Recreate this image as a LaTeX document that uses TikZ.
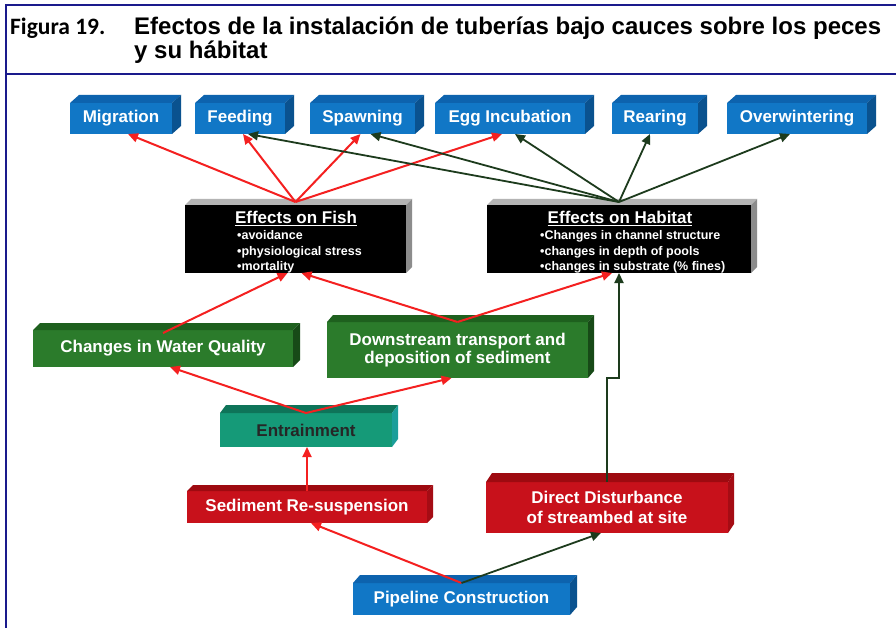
\documentclass[tikz,border=0pt]{standalone}
\usepackage{fontspec}
\setmainfont{Liberation Sans}
\newfontfamily\carlitofont{Carlito}
\usetikzlibrary{arrows.meta,calc}

\definecolor{frameblue}{HTML}{1A1A8C}
\definecolor{bF}{HTML}{1177C6}
\definecolor{bT}{HTML}{0D63AE}
\definecolor{bS}{HTML}{0A528F}
\definecolor{gF}{HTML}{2B7B2B}
\definecolor{gT}{HTML}{1E601E}
\definecolor{gS}{HTML}{174A17}
\definecolor{tF}{HTML}{159A78}
\definecolor{tT}{HTML}{0E7459}
\definecolor{tS}{HTML}{1B9E9A}
\definecolor{rF}{HTML}{C8111B}
\definecolor{rT}{HTML}{9E0A10}
\definecolor{rS}{HTML}{A50C14}
\definecolor{kT}{HTML}{B4B4B4}
\definecolor{kS}{HTML}{8C8C8C}
\definecolor{arR}{HTML}{F42020}
\definecolor{arG}{HTML}{1D3B1D}

\newcommand\boxfaces[5]{%
  \fill[#4] (#1.north west) -- ++(#2,-#3) -- ($(#1.north east)+(#2,-#3)$) -- (#1.north east) -- cycle;
  \fill[#5] (#1.north east) -- ++(#2,-#3) -- ($(#1.south east)+(#2,-#3)$) -- (#1.south east) -- cycle;
}

\tikzset{
  frontbox/.style={rectangle, inner sep=0pt, outer sep=0pt, anchor=north west, align=center,
    font=\bfseries\fontsize{17}{19}\selectfont, text=white},
  bluebox/.style={frontbox, fill=bF},
  greenbox/.style={frontbox, fill=gF},
  tealbox/.style={frontbox, fill=tF, text=black!85},
  redbox/.style={frontbox, fill=rF},
  blackbox/.style={frontbox, fill=black},
  boxtitle/.style={anchor=base, inner sep=0pt, text=white, font=\bfseries\fontsize{17}{19}\selectfont},
  bulletline/.style={anchor=base west, inner sep=0pt, text=white, font=\bfseries\fontsize{12.5}{14}\selectfont},
  redarrow/.style={draw=arR, line width=2pt, -{Triangle[length=10pt,width=9pt]}},
  greenarrow/.style={draw=arG, line width=1.8pt, -{Triangle[length=10pt,width=9pt]}},
  framerule/.style={draw=frameblue, line width=1.5pt},
  titletext/.style={anchor=base west, inner sep=0pt, font=\bfseries\fontsize{24}{26}\selectfont},
}

\begin{document}
\begin{tikzpicture}[x=1pt,y=-1pt]
\useasboundingbox (0,0) rectangle (896,628);
\fill[white] (0,0) rectangle (896,628);

% frame
\draw[framerule] (6,628) -- (6,5) -- (896,5);
\draw[framerule] (6,74) -- (896,74);

% title
\node[titletext, font=\carlitofont\bfseries\fontsize{23.5}{25}\selectfont] (fig) at (10,35) {Figura 19.};
\node[titletext] (title1) at (134,35) {Efectos de la instalación de tuberías bajo cauces sobre los peces};
\node[titletext] (title2) at (134,59) {y su hábitat};

% top row
\node[bluebox, minimum width=102pt, minimum height=31pt] (mig) at (70,103) {Migration};
\node[bluebox, minimum width=90pt, minimum height=31pt] (feed) at (195,103) {Feeding};
\node[bluebox, minimum width=105pt, minimum height=31pt] (spawn) at (310,103) {Spawning};
\node[bluebox, minimum width=150pt, minimum height=31pt] (egg) at (435,103) {Egg Incubation};
\node[bluebox, minimum width=86pt, minimum height=31pt] (rear) at (612,103) {Rearing};
\node[bluebox, minimum width=140pt, minimum height=31pt] (over) at (727,103) {Overwintering};
\boxfaces{mig}{9}{8}{bT}{bS}
\boxfaces{feed}{9}{8}{bT}{bS}
\boxfaces{spawn}{9}{8}{bT}{bS}
\boxfaces{egg}{9}{8}{bT}{bS}
\boxfaces{rear}{9}{8}{bT}{bS}
\boxfaces{over}{9}{8}{bT}{bS}

% effects boxes
\node[blackbox, minimum width=221pt, minimum height=68pt] (fish) at (185,205) {};
\node[blackbox, minimum width=264pt, minimum height=68pt] (hab) at (487,205) {};
\boxfaces{fish}{6}{6}{kT}{kS}
\boxfaces{hab}{6}{6}{kT}{kS}
\node[boxtitle] (fishT) at (296,224) {\underline{Effects on Fish}};
\node[bulletline] (fishB1) at (237,239.5) {•avoidance};
\node[bulletline] (fishB2) at (237,255.5) {•physiological stress};
\node[bulletline] (fishB3) at (237,270.5) {•mortality};
\node[boxtitle] (habT) at (620,224) {\underline{Effects on Habitat}};
\node[bulletline] (habB1) at (540,239.5) {•Changes in channel structure};
\node[bulletline] (habB2) at (540,255.5) {•changes in depth of pools};
\node[bulletline] (habB3) at (540,270.5) {•changes in substrate (\% fines)};

% middle row
\node[greenbox, minimum width=260pt, minimum height=37pt] (wq) at (33,330) {Changes in Water Quality};
\node[greenbox, minimum width=261pt, minimum height=56pt, font=\bfseries\fontsize{17}{17.5}\selectfont] (down) at (327,322) {Downstream transport and\\deposition of sediment};
\boxfaces{wq}{7}{7}{gT}{gS}
\boxfaces{down}{6}{7}{gT}{gS}

\node[tealbox, minimum width=172pt, minimum height=34pt] (ent) at (220,413) {Entrainment};
\boxfaces{ent}{6}{8}{tT}{tS}

\node[redbox, minimum width=240pt, minimum height=32pt] (sed) at (187,491) {Sediment Re-suspension};
\node[redbox, minimum width=242pt, minimum height=51pt, font=\bfseries\fontsize{17}{20}\selectfont] (dir) at (486,482) {Direct Disturbance\\of streambed at site};
\boxfaces{sed}{6}{6}{rT}{rS}
\boxfaces{dir}{6}{9}{rT}{rS}

\node[bluebox, minimum width=217pt, minimum height=32pt] (pipe) at (353,583) {Pipeline Construction};
\boxfaces{pipe}{7}{8}{bT}{bS}

% arrows: fish -> uses
\draw[redarrow] ([yshift=3pt]fish.north) -- ([xshift=7pt]mig.south);
\draw[redarrow] ([yshift=3pt]fish.north) -- ([xshift=3pt]feed.south);
\draw[redarrow] ([yshift=3pt]fish.north) -- ([xshift=-2pt]spawn.south);
\draw[redarrow] ([yshift=3pt]fish.north) -- ([xshift=-8pt]egg.south);
% habitat -> uses
\draw[greenarrow] ([yshift=3pt]hab.north) -- ([xshift=8pt]feed.south);
\draw[greenarrow] ([yshift=3pt]hab.north) -- ([xshift=8pt]spawn.south);
\draw[greenarrow] ([yshift=3pt]hab.north) -- ([xshift=5pt]egg.south);
\draw[greenarrow] ([yshift=3pt]hab.north) -- ([xshift=-5pt]rear.south);
\draw[greenarrow] ([yshift=3pt]hab.north) -- ([xshift=-7pt]over.south);

% middle -> effects
\draw[redarrow] ([yshift=-3pt]wq.north) -- ([xshift=-8pt]fish.south);
\draw[redarrow] (down.north) -- ([xshift=6pt]fish.south);
\draw[redarrow] (down.north) -- ([xshift=-7pt]hab.south);
\draw[greenarrow] (dir.north) -- ++(0,-104) -| (hab.south);

% entrainment -> middle
\draw[redarrow] (ent.north) -- ([xshift=7pt]wq.south);
\draw[redarrow] (ent.north) -- ([xshift=-6pt]down.south);

% sediment -> entrainment
\draw[redarrow] (sed.north) -- (sed.north |- ent.south);

% pipeline -> sediment / direct
\draw[redarrow] (pipe.north) -- ([xshift=4pt]sed.south);
\draw[greenarrow] (pipe.north) -- ([xshift=-6pt]dir.south);
\end{tikzpicture}
\end{document}
